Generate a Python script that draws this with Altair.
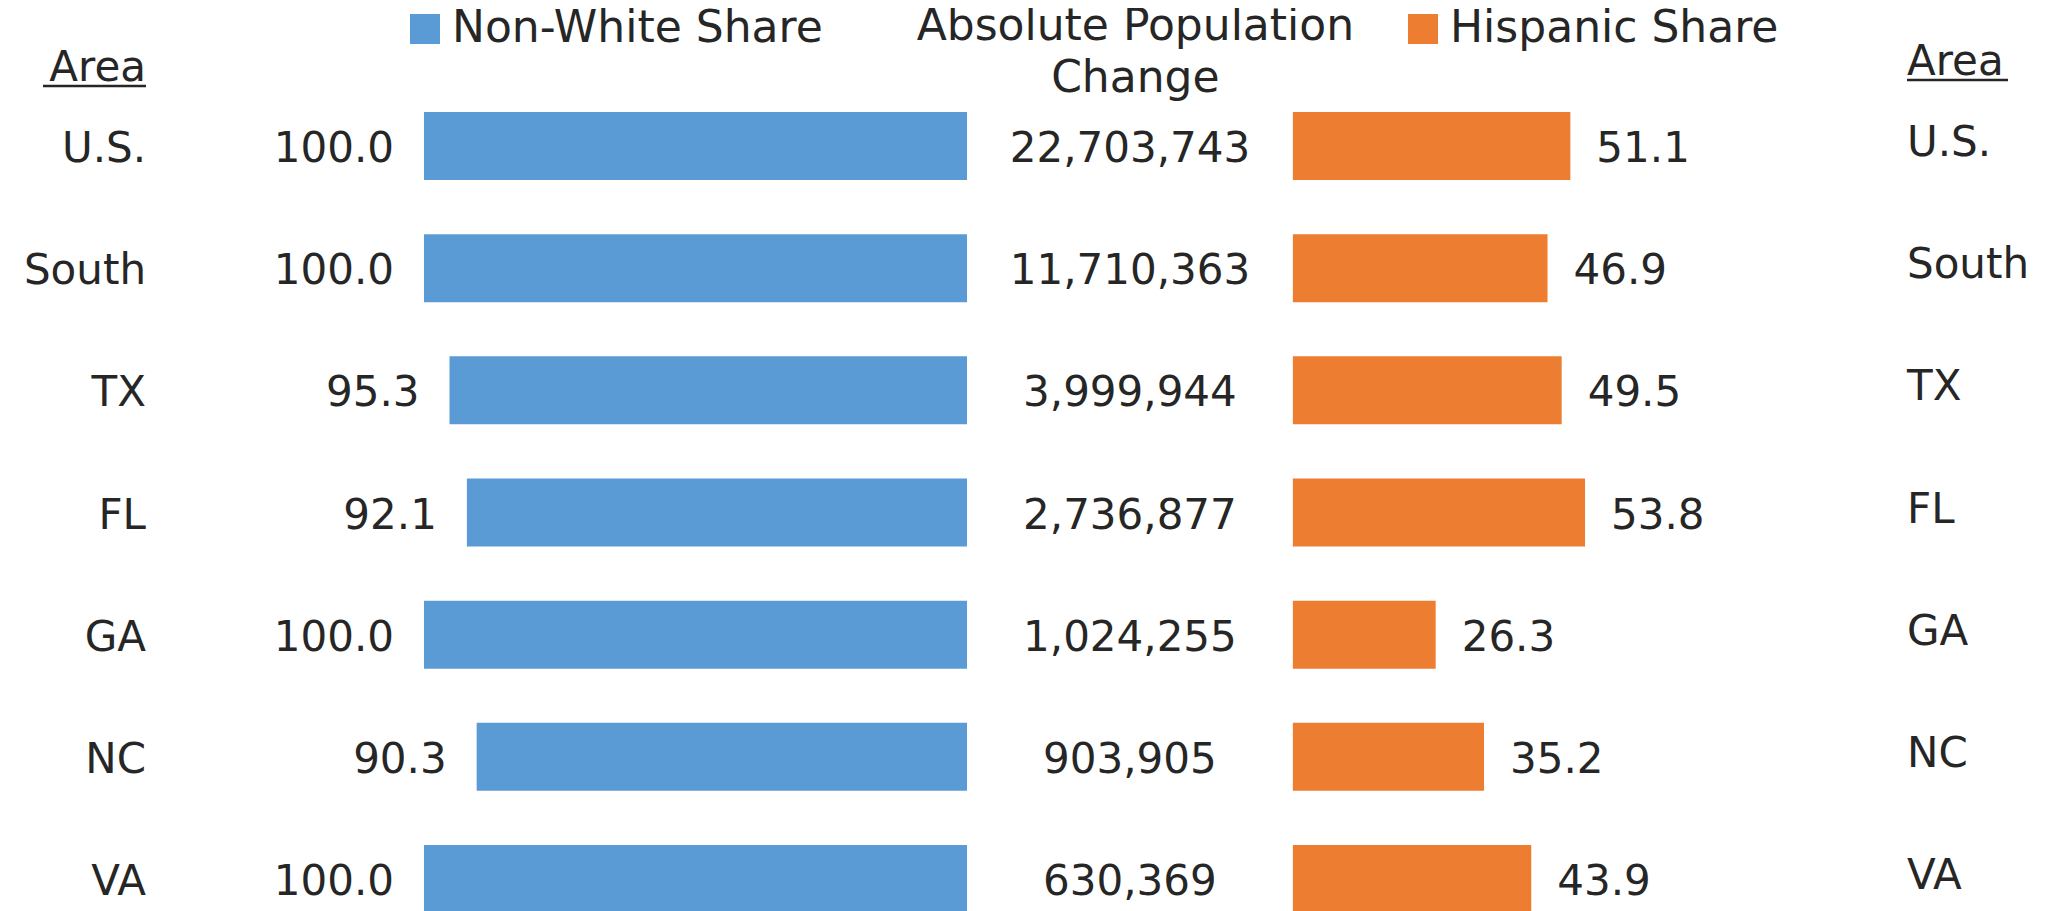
import altair as alt
import pandas as pd

areas = ["U.S.", "South", "TX", "FL", "GA", "NC", "VA"]
nonwhite_share = [100.0, 100.0, 95.3, 92.1, 100.0, 90.3, 100.0]
abs_change = [22703743, 11710363, 3999944, 2736877, 1024255, 903905, 630369]
hispanic_share = [51.1, 46.9, 49.5, 53.8, 26.3, 35.2, 43.9]
series = ["Non-White Share", "Absolute Population Change", "Hispanic Share"]
header = "Area"

BLUE = "#5B9BD5"
ORANGE = "#ED7D31"
TXT = "#262626"
FONT = "DejaVu Sans"
FS = 42

df = pd.DataFrame({
    "area": areas,
    "nonwhite": nonwhite_share,
    "change": abs_change,
    "hispanic": hispanic_share,
})

W, H = 2031, 855
xscale = alt.Scale(domain=[-176.6, 197.4], range=[0, W], nice=False, zero=False)
yscale = alt.Scale(paddingInner=0.4435, paddingOuter=0.2218)
Y = alt.Y("area:N", sort=areas, axis=None, scale=yscale)

base = alt.Chart(df).transform_calculate(
    neg="-datum.nonwhite",
    zero="0",
    hstart="60",
    hend="60 + datum.hispanic",
    mid="30",
    s1=f"'{series[0]}'",
    s3=f"'{series[2]}'",
)

def legend(x):
    return alt.Legend(
        orient="none", legendX=x, legendY=-78, direction="horizontal",
        title=None, symbolType="square", symbolSize=900, symbolStrokeWidth=0,
        labelFontSize=44, labelFont=FONT, labelColor=TXT, labelOffset=5,
        padding=0, labelLimit=600,
    )

blue = base.mark_bar().encode(
    x=alt.X("neg:Q", scale=xscale, axis=None),
    x2="zero:Q",
    y=Y,
    color=alt.Color("s1:N", scale=alt.Scale(domain=[series[0]], range=[BLUE]), legend=legend(395)),
)

orange = base.mark_bar().encode(
    x=alt.X("hstart:Q", scale=xscale, axis=None),
    x2="hend:Q",
    y=Y,
    color=alt.Color("s3:N", scale=alt.Scale(domain=[series[2]], range=[ORANGE]), legend=legend(1393)),
)

blue_lbl = base.mark_text(align="right", baseline="middle", dx=-30, dy=3, font=FONT, fontSize=FS, color=TXT).encode(
    x=alt.X("neg:Q", scale=xscale, axis=None),
    y=Y,
    text=alt.Text("nonwhite:Q", format=".1f"),
)

orange_lbl = base.mark_text(align="left", baseline="middle", dx=26, dy=3, font=FONT, fontSize=FS, color=TXT).encode(
    x=alt.X("hend:Q", scale=xscale, axis=None),
    y=Y,
    text=alt.Text("hispanic:Q", format=".1f"),
)

mid_lbl = base.mark_text(align="center", baseline="middle", dy=3, font=FONT, fontSize=FS, color=TXT).encode(
    x=alt.X("mid:Q", scale=xscale, axis=None),
    y=Y,
    text=alt.Text("change:Q", format=",d"),
)

left_area = base.mark_text(align="right", baseline="middle", dy=3, font=FONT, fontSize=FS, color=TXT).encode(
    x=alt.value(138),
    y=Y,
    text="area:N",
)

right_area = base.mark_text(align="left", baseline="middle", dy=-3, font=FONT, fontSize=FS, color=TXT).encode(
    x=alt.value(1899),
    y=Y,
    text="area:N",
)

mid_header = alt.Chart(pd.DataFrame({"t": [series[1]]})).transform_calculate(
    lines="['Absolute Population', 'Change']", mid="31"
).mark_text(align="center", baseline="alphabetic", font=FONT, fontSize=44, color=TXT, lineHeight=52).encode(
    x=alt.X("mid:Q", scale=xscale, axis=None),
    y=alt.value(-45),
    text="lines:N",
)

hdr = alt.Chart(pd.DataFrame({"h": [header]}))
left_hdr = hdr.mark_text(align="right", baseline="alphabetic", font=FONT, fontSize=FS, color=TXT).encode(
    x=alt.value(138), y=alt.value(-4), text="h:N")
right_hdr = hdr.mark_text(align="left", baseline="alphabetic", font=FONT, fontSize=FS, color=TXT).encode(
    x=alt.value(1899), y=alt.value(-10), text="h:N")
left_ul = hdr.mark_rule(color=TXT, strokeWidth=2.5).encode(
    x=alt.value(35), x2=alt.value(138), y=alt.value(1))
right_ul = hdr.mark_rule(color=TXT, strokeWidth=2.5).encode(
    x=alt.value(1899), x2=alt.value(2000), y=alt.value(-5))

chart = alt.layer(
    blue, orange, blue_lbl, orange_lbl, mid_lbl, left_area, right_area,
    mid_header, left_hdr, right_hdr, left_ul, right_ul,
).resolve_scale(color="independent").resolve_legend(color="independent").properties(
    width=W, height=H,
    autosize=alt.AutoSizeParams(type="none"),
    padding={"left": 0, "top": 77, "right": 0, "bottom": 0},
).configure(background="white").configure_view(stroke=None, strokeWidth=0)

chart.save("out.html", embed_options={"renderer": "svg", "actions": False})
